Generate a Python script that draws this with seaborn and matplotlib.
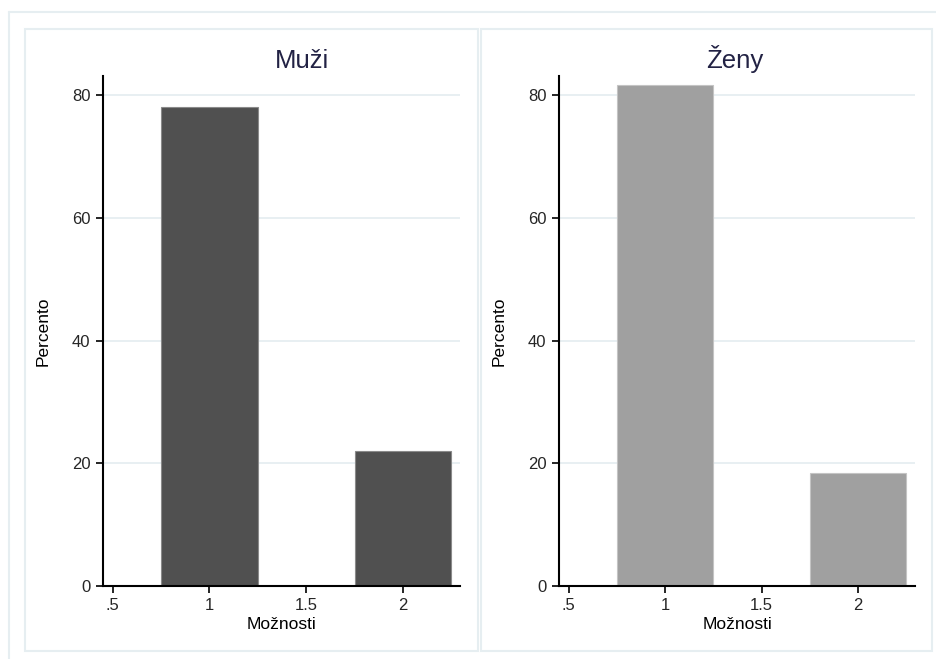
import matplotlib
matplotlib.use('Agg')
import matplotlib.pyplot as plt
import seaborn as sns
import pandas as pd
from matplotlib.lines import Line2D
from matplotlib.patches import Rectangle

# Data
moznosti = [1, 2]
muzi_pct = [78.0, 22.0]
zeny_pct = [81.6, 18.4]
panel_titles = ['Muži', 'Ženy']
xticks = [0.5, 1, 1.5, 2]
xtick_labels = ['.5', '1', '1.5', '2']
yticks = [0, 20, 40, 60, 80]

sns.set_theme(style='white')
plt.rcParams['font.family'] = ['Liberation Sans', 'DejaVu Sans']

W, H = 936, 659
fig = plt.figure(figsize=(W / 100, H / 100), dpi=100)
fig.patch.set_facecolor('white')

frame_col = '#e6eef1'

# outer frame (left + top)
fig.add_artist(Line2D([9 / W, 9 / W], [0, 1 - 12 / H], color=frame_col, lw=1.5, transform=fig.transFigure))
fig.add_artist(Line2D([9 / W, 1], [1 - 12 / H, 1 - 12 / H], color=frame_col, lw=1.5, transform=fig.transFigure))

# panel boxes
for x0, x1 in [(25, 478), (481, 932)]:
    fig.add_artist(Rectangle((x0 / W, 1 - 651 / H), (x1 - x0) / W, (651 - 29) / H,
                             fill=False, edgecolor=frame_col, lw=1.5, transform=fig.transFigure))

df = pd.DataFrame({
    'Možnosti': moznosti * 2,
    'Percento': muzi_pct + zeny_pct,
    'pohlavi': [panel_titles[0]] * 2 + [panel_titles[1]] * 2,
})

panels = [
    (panel_titles[0], 103, 460, '#505050', '#8a8a8a', 0.557),
    (panel_titles[1], 559, 915, '#a0a0a0', '#c4c4c4', 0.494),
]
ax_top, ax_bot = 76, 586

for title, px0, px1, color, edge, tx in panels:
    ax = fig.add_axes([px0 / W, 1 - ax_bot / H, (px1 - px0) / W, (ax_bot - ax_top) / H])
    sub = df[df['pohlavi'] == title]
    sns.barplot(data=sub, x='Možnosti', y='Percento', native_scale=True, width=0.5,
                color=color, edgecolor=edge, linewidth=0.8, saturation=1, errorbar=None, ax=ax)
    ax.set_xlim(0.45, 2.295)
    ax.set_ylim(0, 83.1)
    ax.set_xticks(xticks)
    ax.set_xticklabels(xtick_labels)
    ax.set_yticks(yticks)
    ax.tick_params(axis='both', which='both', direction='out', length=5, width=1.2,
                   color='black', labelsize=12, bottom=True, left=True)
    ax.tick_params(axis='x', pad=4)
    ax.tick_params(axis='y', pad=4)
    for y in yticks[1:]:
        ax.axhline(y, color=frame_col, lw=1.3, zorder=0)
    for s in ['top', 'right']:
        ax.spines[s].set_visible(False)
    for s in ['left', 'bottom']:
        ax.spines[s].set_color('black')
        ax.spines[s].set_linewidth(1.5)
    ax.set_facecolor('white')
    ax.set_xlabel('Možnosti', fontsize=12.5, color='black')
    ax.xaxis.set_label_coords(0.5, -0.06)
    ax.set_ylabel('Percento', fontsize=12.5, color='black')
    ax.yaxis.set_label_coords(-0.148, 0.5)
    ax.text(tx, 1 + 8 / (ax_bot - ax_top), title, transform=ax.transAxes,
            ha='center', va='baseline', fontsize=18.5, color='#222244')

fig.savefig('out.png', dpi=100, facecolor='white')
